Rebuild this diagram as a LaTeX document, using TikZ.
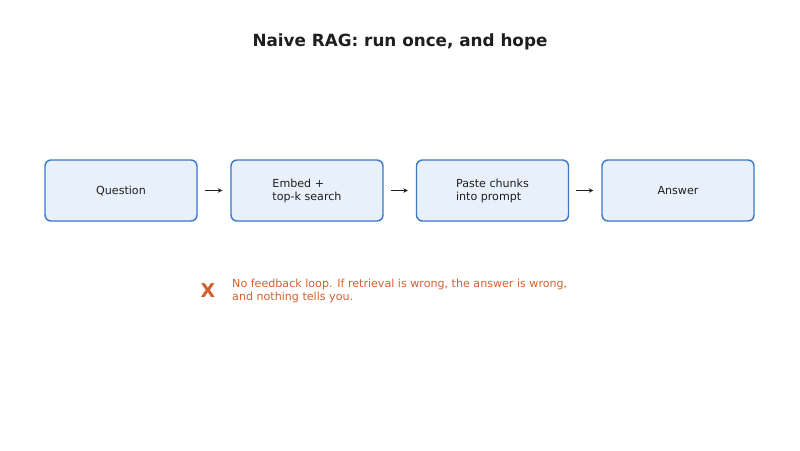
\documentclass[tikz,border=0pt]{standalone}
\usepackage{fontspec}
\setmainfont{DejaVu Sans}
\usetikzlibrary{arrows.meta}
\definecolor{boxfill}{HTML}{E8F0FB}
\definecolor{boxline}{HTML}{3A78C8}
\definecolor{warn}{HTML}{D2602E}
\definecolor{ink}{HTML}{1E1E1E}
\tikzset{
  stepbox/.style={draw=boxline, fill=boxfill, line width=1.4pt, rounded corners=6pt,
    minimum width=152pt, minimum height=61pt, inner sep=0pt, font=\fontsize{11.1}{13}\selectfont, text=ink, align=left},
  flow/.style={-{Stealth[length=4.5pt,width=4.5pt]}, line width=0.9pt, draw=ink, shorten <=7pt, shorten >=8pt}
}
\begin{document}
\begin{tikzpicture}[x=1pt,y=-1pt]
\useasboundingbox (0,0) rectangle (800,450);
\node[font=\fontsize{16.8}{20}\bfseries\selectfont, text=ink] (title) at (400,42) {Naive RAG: run once, and hope};
\node[stepbox] (q) at (121,190.5) {Question};
\node[stepbox] (e) at (307,190.5) {Embed +\\top-k search};
\node[stepbox] (p) at (492.5,190.5) {Paste chunks\\into prompt};
\node[stepbox] (a) at (678,190.5) {Answer};
\draw[flow] (q) -- (e);
\draw[flow] (e) -- (p);
\draw[flow] (p) -- (a);
\node[font=\fontsize{19}{21}\bfseries\selectfont, text=warn] (x) at (208,291) {X};
\node[anchor=west, align=left, font=\fontsize{11.1}{13}\selectfont, text=warn, inner sep=0pt] (note) at (232,291) {No feedback loop. If retrieval is wrong, the answer is wrong,\\and nothing tells you.};
\end{tikzpicture}
\end{document}
